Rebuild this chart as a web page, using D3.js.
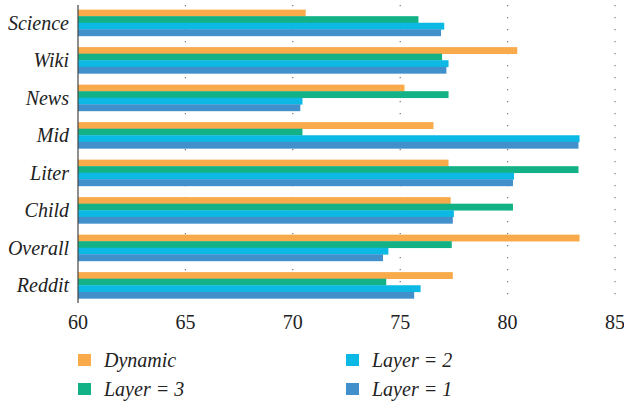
<!DOCTYPE html>
<html>
<head>
<meta charset="utf-8">
<script src="https://cdn.jsdelivr.net/npm/d3@7"></script>
<style>
  svg text { font-family: 'Liberation Serif', 'DejaVu Serif' !important; }
</style>
</head>
<body style="margin:0">
<script>
// categories, top to bottom
var categories = ["Science", "Wiki", "News", "Mid", "Liter", "Child", "Overall", "Reddit"];

// series, in drawing order inside a group
var seriesNames = ["Dynamic", "Layer = 3", "Layer = 2", "Layer = 1"];
var dynamic = [70.6, 80.45, 75.2, 76.55, 77.25, 77.35, 83.35, 77.45];
var layer3  = [75.85, 76.95, 77.25, 70.45, 83.3, 80.25, 77.4, 74.35];
var layer2  = [77.05, 77.25, 70.45, 83.35, 80.3, 77.5, 74.45, 75.95];
var layer1  = [76.9, 77.15, 70.35, 83.3, 80.25, 77.45, 74.2, 75.65];
var xTicks = [60, 65, 70, 75, 80, 85];

var colors = ["#F9AA4B", "#12B286", "#0CB9E4", "#4190CB"];
var series = [dynamic, layer3, layer2, layer1];

var w = 624, h = 402;
var plotBottom = 303;

var svg = d3.select("body").append("svg")
  .attr("width", w)
  .attr("height", h)
  .attr("font-family", "Liberation Serif")
  .style("display", "block");

var x = d3.scaleLinear().domain([60, 85]).range([78, 615]);

var y = d3.scaleBand()
  .domain(categories)
  .range([4, 304])
  .paddingInner(0.3)
  .paddingOuter(0.15);

var y1 = d3.scaleBand()
  .domain(d3.range(seriesNames.length))
  .range([0, y.bandwidth()]);

// dotted grid
svg.append("g")
  .selectAll("line")
  .data(xTicks.slice(1))
  .enter()
  .append("line")
  .attr("x1", function (d) { return x(d); })
  .attr("x2", function (d) { return x(d); })
  .attr("y1", 5)
  .attr("y2", plotBottom)
  .attr("stroke", "#777")
  .attr("stroke-width", 1.2)
  .attr("stroke-dasharray", "1.3,10.7");

// bars
var groups = svg.append("g")
  .selectAll("g")
  .data(categories)
  .enter()
  .append("g")
  .attr("transform", function (d) { return "translate(0," + y(d) + ")"; });

groups.selectAll("rect")
  .data(function (d, i) {
    return series.map(function (s, j) { return {k: j, v: s[i]}; });
  })
  .enter()
  .append("rect")
  .attr("x", x(60))
  .attr("y", function (d) { return y1(d.k); })
  .attr("width", function (d) { return x(d.v) - x(60); })
  .attr("height", y1.bandwidth() + 0.3)
  .attr("fill", function (d) { return colors[d.k]; });

// vertical axis line
svg.append("line")
  .attr("x1", x(60)).attr("x2", x(60))
  .attr("y1", 5).attr("y2", plotBottom)
  .attr("stroke", "#444")
  .attr("stroke-width", 1.2);

// category labels
svg.append("g")
  .selectAll("text")
  .data(categories)
  .enter()
  .append("text")
  .attr("x", 69)
  .attr("y", function (d) { return y(d) + y.bandwidth() / 2; })
  .attr("dy", "0.35em")
  .attr("text-anchor", "end")
  .attr("font-style", "italic")
  .attr("font-size", 20)
  .attr("fill", "#222")
  .text(function (d) { return d; });

// x tick labels
svg.append("g")
  .selectAll("text")
  .data(xTicks)
  .enter()
  .append("text")
  .attr("x", function (d) { return x(d); })
  .attr("y", 329)
  .attr("text-anchor", "middle")
  .attr("font-size", 20)
  .attr("fill", "#222")
  .text(function (d) { return d; });

// legend
var legendPos = [[78, 360], [78, 389], [346, 360], [346, 389]];
var legend = svg.append("g")
  .selectAll("g")
  .data(d3.range(seriesNames.length))
  .enter()
  .append("g")
  .attr("transform", function (d, i) {
    return "translate(" + legendPos[i][0] + "," + legendPos[i][1] + ")";
  });

legend.append("rect")
  .attr("x", 0)
  .attr("y", -6)
  .attr("width", 13)
  .attr("height", 12)
  .attr("fill", function (d) { return colors[d]; });

legend.append("text")
  .attr("x", 26)
  .attr("y", 0)
  .attr("dy", "0.35em")
  .attr("font-style", "italic")
  .attr("font-size", 20)
  .attr("fill", "#222")
  .text(function (d) { return seriesNames[d]; });
</script>
</body>
</html>
